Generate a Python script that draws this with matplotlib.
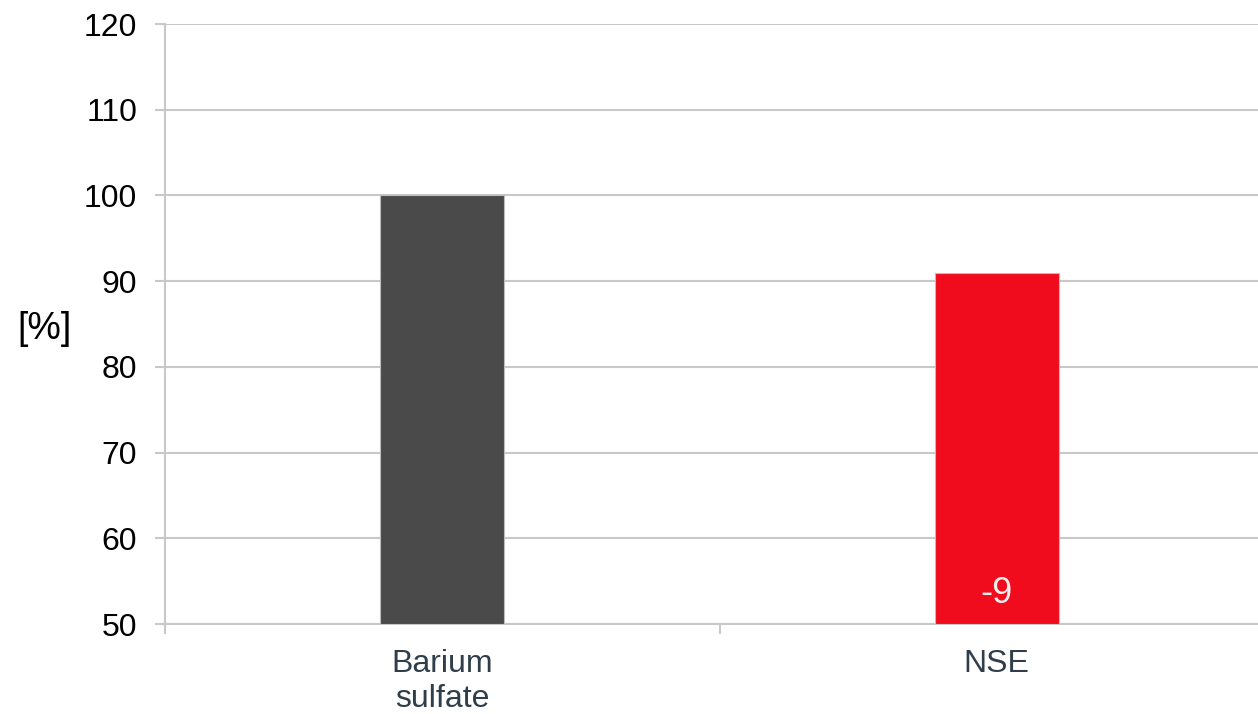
import numpy as np
import matplotlib
matplotlib.use('Agg')
import matplotlib.pyplot as plt

# Chart data
categories = ['Barium\nsulfate', 'NSE']
values = [100, 91]
bar_colors = ['#4a4a4a', '#f00c1c']
bar_labels = ['', '-9']
y_ticks = [50, 60, 70, 80, 90, 100, 110, 120]

plt.rcParams['font.family'] = ['Liberation Sans', 'DejaVu Sans']

fig = plt.figure(figsize=(12.58, 7.14), dpi=100)

# Plot area runs off the right edge of the figure, as in the original
ax = fig.add_axes([165/1258, (714 - 624)/714, (1258 - 165)/1258, 600/714])

x = np.arange(len(categories))
ax.bar(x, np.array(values) - 50, bottom=50, width=0.224, color=bar_colors,
       edgecolor='#bdbdbd', linewidth=0.8, zorder=3)

# Value labels inside the bars
for xi, lab in zip(x, bar_labels):
    if lab:
        ax.annotate(lab, xy=(xi, 50), xytext=(0, 15), textcoords='offset points',
                    ha='center', va='baseline', color='#eeeeee', fontsize=26, zorder=4)

ax.set_yticks(y_ticks)
ax.tick_params(axis='y', labelsize=23, length=7, width=1.5, color='#c8c8c8',
               pad=13, labelcolor='black')
ax.grid(axis='y', color='#c8c8c8', linewidth=1.5, zorder=0)

# Category boundary ticks, labels at category centres
ax.set_xticks([-0.5, 0.5, 1.5])
ax.set_xticklabels([])
ax.set_xticks(x, minor=True)
ax.set_xticklabels(categories, minor=True, fontsize=23, color='#2f3e4a', linespacing=1.2)
ax.tick_params(axis='x', which='major', length=7, width=1.5, color='#c8c8c8')
ax.tick_params(axis='x', which='minor', length=0, pad=18)

# limits after the ticks, since set_xticks widens the view
ax.set_xlim(-0.5, 1.471)
ax.set_ylim(50, 120)

for side in ['top', 'right']:
    ax.spines[side].set_visible(False)
for side in ['left', 'bottom']:
    ax.spines[side].set_color('#c8c8c8')
    ax.spines[side].set_linewidth(1.5)

ax.set_ylabel('[%]', rotation=0, fontsize=27, labelpad=0, va='center', ha='center')
ax.yaxis.set_label_coords(-0.110, 0.492)

fig.savefig('out.png', dpi=100)
